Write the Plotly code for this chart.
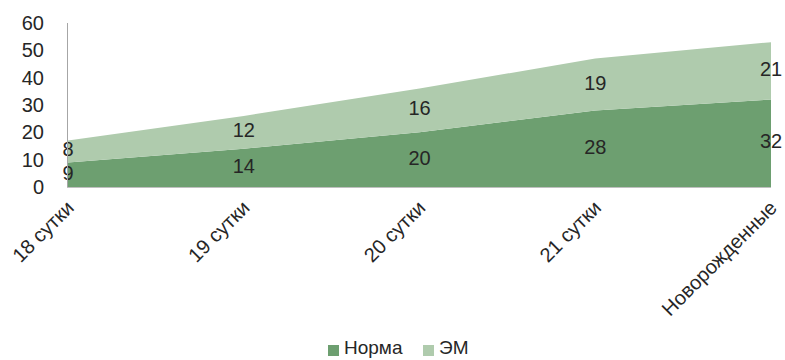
import plotly.graph_objects as go

categories = ["18 сутки", "19 сутки", "20 сутки", "21 сутки", "Новорожденные"]
norma = [9, 14, 20, 28, 32]
em = [8, 12, 16, 19, 21]
y_ticks = [0, 10, 20, 30, 40, 50, 60]
series_names = ["Норма", "ЭМ"]

c_norma = "#6d9f70"
c_em = "#afcbad"
font = "Liberation Sans, Arial, sans-serif"

W, H = 785, 360
ML, MR, MT, MB = 68, 14, 23, 173
PW, PH = W - ML - MR, H - MT - MB


def px_x(px):
    return (px - ML) / PW


def px_y(py):
    return (H - MB - py) / PH


x_idx = list(range(len(categories)))
fig = go.Figure()
fig.add_trace(go.Scatter(x=x_idx, y=norma, name=series_names[0], stackgroup="s",
                         mode="none", fillcolor=c_norma, line=dict(width=0),
                         showlegend=False))
fig.add_trace(go.Scatter(x=x_idx, y=em, name=series_names[1], stackgroup="s",
                         mode="none", fillcolor=c_em, line=dict(width=0),
                         showlegend=False))

mid_n = [v / 2 for v in norma]
mid_e = [n + e / 2 for n, e in zip(norma, em)]
fig.add_trace(go.Scatter(x=x_idx, y=mid_n, text=[str(v) for v in norma], mode="text",
                         textfont=dict(size=20, color="#262626", family=font),
                         showlegend=False, hoverinfo="skip", cliponaxis=False))
fig.add_trace(go.Scatter(x=x_idx, y=mid_e, text=[str(v) for v in em], mode="text",
                         textfont=dict(size=20, color="#262626", family=font),
                         showlegend=False, hoverinfo="skip", cliponaxis=False))

# manual legend (square swatches, tight spacing as in reference)
legend_items = [(series_names[0], c_norma, 328), (series_names[1], c_em, 423)]
for name, col, x0 in legend_items:
    fig.add_shape(type="rect", xref="paper", yref="paper",
                  x0=px_x(x0), x1=px_x(x0 + 11), y0=px_y(356), y1=px_y(345),
                  fillcolor=col, line=dict(width=0))
    fig.add_annotation(xref="paper", yref="paper", x=px_x(x0 + 14), y=px_y(359.5),
                       xanchor="left", yanchor="bottom", showarrow=False,
                       text=name, font=dict(size=19, color="#262626", family=font))

fig.update_layout(
    width=W, height=H,
    margin=dict(l=ML, r=MR, t=MT, b=MB),
    paper_bgcolor="white", plot_bgcolor="white",
    font=dict(family=font, size=16, color="#262626"),
    showlegend=False,
    xaxis=dict(range=[0, 4], tickmode="array", tickvals=x_idx, ticktext=categories,
               tickangle=-45, showgrid=False, zeroline=False, showline=True,
               linecolor="#bfbfbf", linewidth=1, ticks="", tickfont=dict(size=20),
               automargin=False),
    yaxis=dict(range=[0, 60], tickvals=y_ticks, showgrid=False, zeroline=False,
               showline=True, linecolor="#a6a6a6", linewidth=1, ticks="",
               tickfont=dict(size=20), ticklabelstandoff=19, automargin=False),
)

fig.write_html("out.html")
